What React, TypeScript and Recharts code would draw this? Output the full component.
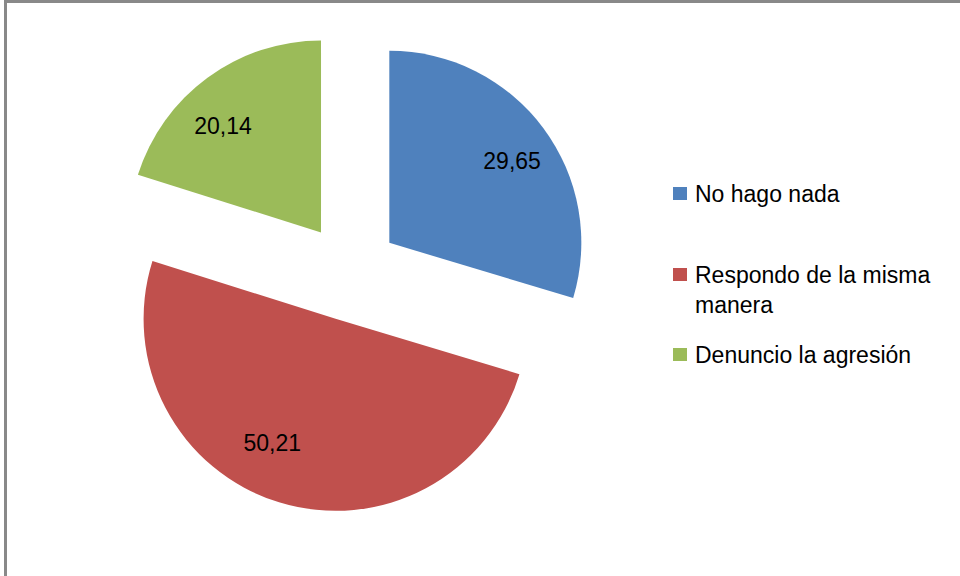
import { PieChart, Pie, Cell, Legend } from "recharts"

// data
const categories = ["No hago nada", "Respondo de la misma manera", "Denuncio la agresión"]
const values = [29.65, 50.21, 20.14]
const colors = ["#4F81BD", "#C0504D", "#9BBB59"]

const data = categories.map((name, i) => ({ name, value: values[i] }))

const RAD = Math.PI / 180
const CX = 350
const CY = 272
const RADIUS = 192
const EXPLODE = 49
const FONT = "'Liberation Sans', Arial, sans-serif"

const total = values.reduce((a, b) => a + b, 0)

// mid angle of every slice in recharts convention (ccw from 3 o'clock, starting at 12 o'clock clockwise)
const midAngles = values.map((v, i) => {
  const before = values.slice(0, i).reduce((a, b) => a + b, 0)
  return 90 - ((before + v / 2) / total) * 360
})

// label box sits outside a point at 0.61 r, its inner corner on that point (like excel does it)
const renderLabel = (slice: number) => (props: any) => {
  if (props.index !== slice) return null
  const { cx, cy, midAngle, outerRadius, value } = props
  const r = outerRadius * 0.61
  const dx = Math.cos(-midAngle * RAD)
  const dy = Math.sin(-midAngle * RAD)
  const x = cx + r * dx
  const y = cy + r * dy + (dy > 0 ? 12 : -12)
  return (
    <text
      x={x}
      y={y}
      textAnchor={dx > 0 ? "start" : "end"}
      dominantBaseline="central"
      fill="#000"
      fontSize={23}
      fontFamily={FONT}
    >
      {Number(value).toFixed(2).replace(".", ",")}
    </text>
  )
}

const LegendBox = () => {
  const gaps = [0, 51, 20]
  return (
    <div style={{ fontFamily: FONT, fontSize: 23, lineHeight: "30px", color: "#000", width: 270 }}>
      {categories.map((name, i) => (
        <div key={name} style={{ display: "flex", alignItems: "flex-start", marginTop: gaps[i] }}>
          <span
            style={{
              display: "inline-block",
              width: 14,
              height: 13,
              marginTop: 8,
              marginRight: 8,
              flex: "none",
              background: colors[i],
            }}
          />
          <span style={{ width: 250 }}>{name}</span>
        </div>
      ))}
    </div>
  )
}

export default function App() {
  return (
    <div style={{ position: "absolute", left: 0, top: 0, width: 960, height: 576, overflow: "hidden", background: "#fff" }}>
      <div
        style={{
          position: "absolute",
          left: 4,
          top: 0,
          width: 1000,
          height: 1000,
          border: "3px solid #898989",
        }}
      />
      <div style={{ position: "absolute", left: 0, top: 0 }}>
        <PieChart width={960} height={576} margin={{ top: 0, right: 0, bottom: 0, left: 0 }}>
          {values.map((_, slice) => (
            <Pie
              key={`pie-${slice}`}
              data={data}
              dataKey="value"
              nameKey="name"
              cx={CX + EXPLODE * Math.cos(midAngles[slice] * RAD)}
              cy={CY - EXPLODE * Math.sin(midAngles[slice] * RAD)}
              outerRadius={RADIUS}
              startAngle={90}
              endAngle={-270}
              stroke="none"
              labelLine={false}
              label={renderLabel(slice)}
              isAnimationActive={false}
            >
              {data.map((entry, i) => (
                <Cell key={`cell-${entry.name}`} fill={i === slice ? colors[i] : "none"} stroke="none" />
              ))}
            </Pie>
          ))}
          <Legend
            layout="vertical"
            align="right"
            verticalAlign="top"
            wrapperStyle={{ left: 673, top: 179, width: 270 }}
            content={() => <LegendBox />}
          />
        </PieChart>
      </div>
    </div>
  )
}
